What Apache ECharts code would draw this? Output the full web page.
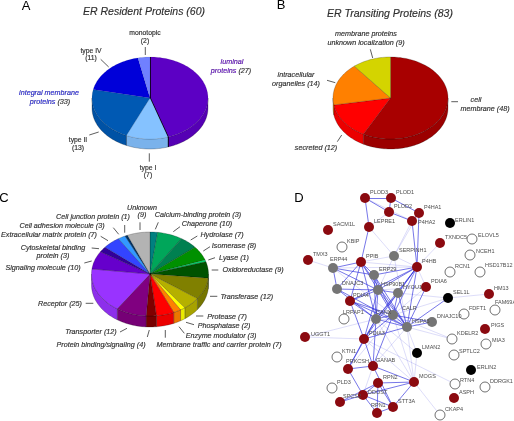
<!DOCTYPE html>
<html>
<head>
<meta charset="utf-8">
<title>ER proteins</title>
<script src="https://cdn.jsdelivr.net/npm/echarts@6/dist/echarts.min.js"></script>
<style>
	html, body { margin: 0; padding: 0; background: #fff; }
	#chart { width: 514px; height: 421px; }
</style>
</head>
<body>
<div id="chart"></div>
<script>
	// panel A
	var residentNames = ['luminal proteins', 'type I', 'type II', 'type IV', 'monotopic'];
	var residentValues = [27, 7, 13, 11, 2];
	// panel B
	var transitingNames = ['cell membrane', 'secreted', 'intracellular organelles', 'membrane proteins unknown localization'];
	var transitingValues = [48, 12, 14, 9];
	// panel C
	var functionNames = ['Calcium-binding protein', 'Chaperone', 'Hydrolase', 'Isomerase', 'Lyase', 'Oxidoreductase',
		'Transferase', 'Protease', 'Phosphatase', 'Enzyme modulator', 'Membrane traffic and carrier protein',
		'Protein binding/signaling', 'Transporter', 'Receptor', 'Signaling molecule', 'Cytoskeletal binding protein',
		'Extracellular matrix protein', 'Cell adhesion molecule', 'Cell junction protein', 'Unknown'];
	var functionValues = [3, 10, 7, 8, 1, 9, 12, 7, 2, 3, 7, 4, 12, 25, 10, 3, 7, 3, 1, 9];

	// panel D, node place, group: r = resident, g = chaperone, k = black, w = white
	var nodeNames = ['PLOD3', 'PLOD1', 'PLOD2', 'P4HA1', 'P4HA2', 'LEPRE1', 'SACM1L', 'ERLIN1', 'KBIP', 'TXNDC5', 'ELOVL5',
		'NCEH1', 'TMX3', 'ERP44', 'PPIB', 'SERPINH1', 'P4HB', 'RCN1', 'HSD17B12', 'ERP29', 'DNAJC3', 'HSP90B1', 'HYOU1',
		'PDIA6', 'SEL1L', 'HM13', 'PDIA4', 'FAM69A', 'FDFT1', 'LRPAP1', 'CANX', 'CALR', 'HSPA5', 'DNAJC10', 'PIGS', 'MIA3',
		'KDELR2', 'UGGT1', 'PDIA3', 'LMAN2', 'SPTLC2', 'KTN1', 'ERLIN2', 'PRKCSH', 'GANAB', 'RPN2', 'MOGS', 'RTN4', 'DDRGK1',
		'PLD3', 'ASPH', 'SPCS2', 'DDOST', 'STT3A', 'RPN1', 'CKAP4'];
	var nodeX = [365, 391, 389, 419, 412, 369, 328, 450, 342, 440, 472, 470, 308, 333, 361, 394, 417, 450, 480, 374, 337, 378, 398,
		426, 448, 489, 350, 495, 464, 344, 376, 393, 407, 432, 485, 486, 452, 305, 364, 417, 454, 337, 471, 348, 373, 378, 414, 455, 485,
		332, 454, 340, 363, 393, 377, 440];
	var nodeY = [198, 198, 212, 213, 221, 227, 230, 223, 247, 243, 239, 255, 260, 268, 262, 256, 267, 272, 272, 275, 289, 290, 293,
		287, 298, 294, 301, 310, 314, 319, 319, 315, 327, 322, 329, 344, 339, 337, 339, 353, 355, 357, 370, 369, 366, 383, 382, 384, 387,
		388, 398, 402, 395, 407, 413, 415];
	var nodeGroups = ['r', 'r', 'r', 'r', 'r', 'r', 'r', 'k', 'w', 'r', 'w', 'w', 'r', 'g', 'r', 'g', 'r', 'w', 'w', 'g', 'g', 'g', 'g',
		'r', 'k', 'r', 'r', 'w', 'w', 'w', 'g', 'g', 'g', 'g', 'r', 'w', 'w', 'r', 'r', 'k', 'w', 'w', 'k', 'r', 'r', 'r', 'r', 'w', 'w',
		'w', 'r', 'r', 'r', 'r', 'r', 'w'];
	// strong interactions
	var strongLinks = ['PLOD3-PLOD1', 'PLOD3-PLOD2', 'PLOD1-PLOD2', 'PLOD1-P4HA1', 'PLOD2-P4HA2', 'P4HA1-P4HA2', 'P4HA1-P4HB', 'P4HA2-P4HB',
		'LEPRE1-PPIB', 'LEPRE1-PLOD3', 'PPIB-ERP44', 'PPIB-ERP29', 'PPIB-HSP90B1', 'PPIB-DNAJC3', 'PPIB-PDIA4', 'PPIB-HSPA5', 'PPIB-CANX',
		'ERP44-ERP29', 'ERP44-HSP90B1', 'ERP44-DNAJC3', 'P4HB-ERP29', 'P4HB-HSP90B1', 'P4HB-HYOU1', 'P4HB-CANX', 'P4HB-CALR', 'P4HB-HSPA5',
		'P4HB-PDIA3', 'P4HB-PDIA4', 'HSP90B1-CANX', 'HSP90B1-CALR', 'HSP90B1-HSPA5', 'HSP90B1-PDIA3', 'HSP90B1-PDIA4', 'HSP90B1-HYOU1',
		'HSP90B1-ERP29', 'ERP29-CANX', 'ERP29-CALR', 'ERP29-HSPA5', 'HYOU1-HSPA5', 'HYOU1-CALR', 'HYOU1-CANX', 'PDIA4-CANX', 'PDIA4-CALR',
		'PDIA4-HSPA5', 'PDIA4-PDIA3', 'DNAJC3-HSPA5', 'DNAJC3-CANX', 'DNAJC3-HSP90B1', 'CANX-CALR', 'CANX-HSPA5', 'CALR-HSPA5', 'CANX-PDIA3',
		'CALR-PDIA3', 'HSPA5-PDIA3', 'HSPA5-DNAJC10', 'CALR-DNAJC10', 'PDIA6-HSPA5', 'SEL1L-HSPA5', 'PDIA3-PRKCSH', 'PDIA3-GANAB', 'CANX-GANAB',
		'CALR-GANAB', 'CANX-PRKCSH', 'PRKCSH-GANAB', 'GANAB-MOGS', 'MOGS-RPN2', 'MOGS-DDOST', 'MOGS-STT3A', 'PRKCSH-DDOST', 'RPN2-DDOST',
		'RPN2-STT3A', 'RPN2-RPN1', 'DDOST-STT3A', 'DDOST-RPN1', 'DDOST-SPCS2', 'SPCS2-RPN2', 'STT3A-RPN1', 'GANAB-STT3A'];
	// weak interactions
	var weakLinks = ['P4HA2-SERPINH1', 'P4HA1-SERPINH1', 'LEPRE1-PLOD2', 'LEPRE1-SERPINH1', 'SERPINH1-PPIB', 'SERPINH1-P4HB', 'SERPINH1-HSP90B1',
		'SERPINH1-HSPA5', 'PLOD3-P4HA2', 'PPIB-P4HB', 'ERP44-P4HB', 'ERP44-CALR', 'TMX3-ERP44', 'P4HB-PDIA6', 'P4HB-TXNDC5', 'PDIA6-HSP90B1',
		'PDIA6-CALR', 'CANX-DNAJC10', 'SEL1L-HM13', 'SEL1L-HYOU1', 'SEL1L-CALR', 'HSPA5-KDELR2', 'CALR-KDELR2', 'PDIA3-UGGT1', 'CANX-UGGT1',
		'CALR-PRKCSH', 'HSPA5-GANAB', 'HSPA5-MOGS', 'CANX-MOGS', 'CALR-MOGS', 'PDIA3-MOGS', 'MOGS-CKAP4', 'MOGS-LMAN2', 'LMAN2-HSPA5', 'LMAN2-CANX',
		'PDIA3-RTN4', 'GANAB-DDOST'];

	var residentColors = ['#5c00c4', '#85c2ff', '#0059b3', '#0000d9', '#7080ff'];
	var transitingColors = ['#a80000', '#ff0000', '#ff8000', '#d4d400'];
	var functionColors = ['#008080', '#00a65a', '#008050', '#009000', '#00e070', '#005200', '#808000', '#b5b000', '#ffff00', '#ff8000', '#ff0000',
		'#800000', '#800080', '#9933ff', '#6600cc', '#330099', '#3344ff', '#3399ff', '#003366', '#b3b3b3'];
	var groupColors = { r: '#8b0a10', g: '#757575', k: '#000000', w: '#ffffff' };

	// label offset from node centre, the default is [5, -6]
	var labelOffsets = {
		'P4HA2': [6, 1], 'ERLIN1': [5, -3], 'ELOVL5': [6, -4], 'NCEH1': [6, -4], 'ERP44': [-3, -9], 'HSD17B12': [5, -7], 'FAM69A': [0, -8],
		'LRPAP1': [-1, -7], 'CANX': [0, -7], 'CALR': [9, -7], 'PIGS': [6, -4], 'MIA3': [6, -4], 'UGGT1': [6, -3], 'SPTLC2': [5, -4],
		'ERLIN2': [6, -3], 'PRKCSH': [-2, -8], 'GANAB': [3, -6], 'RTN4': [5, -4], 'DDOST': [5, -3], 'RPN1': [-6, -8], 'HSP90B1': [3, -6],
		'PDIA4': [3, -6], 'SPCS2': [3, -6]
	};

	var myChart = echarts.init(document.getElementById('chart'));

	function shade(hex, k) {
		var n = parseInt(hex.slice(1), 16);
		var r = Math.round((n >> 16 & 255) * k), g = Math.round((n >> 8 & 255) * k), b = Math.round((n & 255) * k);
		return 'rgb(' + r + ',' + g + ',' + b + ')';
	}

	// flat pies can't be tilted in echarts, so the tilted ones are a custom series
	function tiltedPie(name, names, values, colors, layout) {
		var total = values.reduce(function (a, b) { return a + b; }, 0);
		var starts = [];
		var sum = 0;
		values.forEach(function (v) { starts.push(sum / total * 360); sum += v; });

		function rim(c, deg, drop) {
			var t = deg * Math.PI / 180;
			return [c[0] + layout.rx * Math.sin(t), c[1] - layout.ry * Math.cos(t) + (drop || 0)];
		}
		function arc(c, a, b, drop) {
			var pts = [];
			var steps = Math.max(2, Math.ceil((b - a) / 2));
			for (var i = 0; i <= steps; i++) pts.push(rim(c, a + (b - a) * i / steps, drop));
			return pts;
		}
		return {
			type: 'custom',
			name: name,
			coordinateSystem: 'cartesian2d',
			silent: true,
			data: values.map(function (v, i) { return { name: names[i], value: [layout.cx, layout.cy, v] }; }),
			encode: { x: 0, y: 1 },
			renderItem: function (params, api) {
				var i = params.dataIndex;
				var c = api.coord([api.value(0), api.value(1)]);
				var a = starts[i];
				var b = a + api.value(2) / total * 360;
				var children = [];
				var from = Math.max(a, 90), to = Math.min(b, 270);
				if (to > from) {
					var wall = arc(c, from, to, 0).concat(arc(c, from, to, layout.depth).reverse());
					children.push({
						type: 'polygon',
						shape: { points: wall },
						style: { fill: shade(colors[i], 0.92), stroke: 'rgba(0,0,0,0.45)', lineWidth: 0.5 }
					});
				}
				children.push({
					type: 'polygon',
					shape: { points: [c].concat(arc(c, a, b, 0)) },
					style: { fill: colors[i], stroke: layout.edge, lineWidth: 0.5 }
				});
				if (layout.accent === i) {
					var p0 = rim(c, a), p1 = rim(c, b);
					var dark = { stroke: '#000', lineWidth: 1.5 };
					children.push({ type: 'line', shape: { x1: c[0], y1: c[1], x2: p0[0], y2: p0[1] }, style: dark });
					children.push({ type: 'line', shape: { x1: c[0], y1: c[1], x2: p1[0], y2: p1[1] }, style: dark });
					children.push({ type: 'line', shape: { x1: p1[0], y1: p1[1], x2: p1[0], y2: p1[1] + layout.depth }, style: dark });
				}
				return { type: 'group', children: children };
			}
		};
	}

	var nodeData = nodeNames.map(function (n, i) {
		var g = nodeGroups[i];
		return {
			name: n,
			value: [nodeX[i], nodeY[i]],
			itemStyle: { color: groupColors[g], borderColor: g == 'w' ? '#333' : groupColors[g], borderWidth: g == 'w' ? 0.7 : 0 },
			label: { offset: labelOffsets[n] || [5, -6] }
		};
	});
	function linkItems(list, color, width) {
		return list.map(function (l) {
			var p = l.split('-');
			return { source: nodeNames.indexOf(p[0]), target: nodeNames.indexOf(p[1]), lineStyle: { color: color, width: width, opacity: 1 } };
		});
	}

	// text annotations: text, x, y
	var titleFont = 'italic 10.5px "Liberation Sans"';
	var labelFont = 'italic 7.2px "Liberation Sans"';
	var smallFont = '6.8px "Liberation Sans"';
	var elements = [];
	function addText(text, x, y, font, align, rich) {
		elements.push({
			type: 'text', x: x, y: y, silent: true,
			style: { text: text, font: font, fill: '#2e2e2e', stroke: '#2e2e2e', lineWidth: 0.15, align: align || 'center', verticalAlign: 'middle', rich: rich }
		});
	}
	[['A', 26, 6], ['B', 281, 5], ['C', 4, 198], ['D', 299, 198]].forEach(function (t) {
		elements.push({ type: 'text', x: t[1], y: t[2], silent: true,
			style: { text: t[0], font: '13px "Liberation Sans"', fill: '#000', align: 'center', verticalAlign: 'middle' } });
	});
	addText('ER Resident Proteins (60)', 144, 12.5, titleFont);
	addText('ER Transiting Proteins (83)', 390, 14, titleFont);

	[['monotopic', 145, 33], ['(2)', 145, 41], ['type IV', 91, 51], ['(11)', 91, 58], ['type II', 78, 140], ['(13)', 78, 148],
		['type I', 148, 168], ['(7)', 148, 175]].forEach(function (t) { addText(t[0], t[1], t[2], smallFont); });

	var purple = { p: { fill: '#5c00c4', font: labelFont } };
	var blue = { b: { fill: '#2222dd', font: labelFont } };
	addText('{p|luminal}', 232, 62, labelFont, 'center', purple);
	addText('{p|proteins} (27)', 231, 71, labelFont, 'center', purple);
	addText('{b|integral membrane}', 49, 92.5, labelFont, 'center', blue);
	addText('{b|proteins} (33)', 50, 102, labelFont, 'center', blue);

	[['membrane proteins', 366, 33.5], ['unknown localization (9)', 366, 42.5], ['intracellular', 296, 74.5], ['organelles (14)', 296, 83.5],
		['cell', 476, 100], ['membrane (48)', 485, 109], ['secreted (12)', 316, 148],
		['Unknown', 142, 207.5], ['(9)', 142, 215], ['Cell junction protein (1)', 93, 216.5], ['Calcium-binding protein (3)', 198, 215],
		['Chaperone (10)', 207, 223.5], ['Cell adhesion molecule (3)', 62, 225.5], ['Extracellular matrix protein (7)', 49, 235],
		['Hydrolase (7)', 222, 235], ['Isomerase (8)', 234, 245.5], ['Cytoskeletal binding', 53, 247.5], ['protein (3)', 53, 255.5],
		['Lyase (1)', 234, 257.5], ['Signaling molecule (10)', 43, 267.5], ['Receptor (25)', 60, 303.5], ['Protease (7)', 227, 316.5],
		['Phosphatase (2)', 224, 325.5], ['Transporter (12)', 91, 332], ['Enzyme modulator (3)', 221, 335.5], ['Protein binding/signaling (4)', 101, 344.5]
	].forEach(function (t) { addText(t[0], t[1], t[2], labelFont); });
	addText('Oxidoreductase (9)', 222.5, 270, labelFont, 'left');
	addText('Transferase (12)', 220.5, 296.5, labelFont, 'left');
	addText('Membrane traffic and carrier protein (7)', 156.5, 345, labelFont, 'left');

	// leader lines
	[[145.3, 47, 145.3, 55], [100.7, 59.3, 108.7, 67], [89.3, 135, 98.7, 132], [149.3, 153.3, 149.3, 161.7],
		[370.3, 49.3, 372.7, 58], [327, 80.3, 335.3, 82.7], [451.3, 101.7, 458, 101.7], [337.3, 141.7, 341.7, 135],
		[140, 222.3, 140, 230], [124.7, 225, 124.7, 232.7], [158.3, 222.3, 155.3, 229.3], [180, 226.7, 173.3, 231.7],
		[113.3, 227.7, 118.7, 234.3], [100.7, 236.3, 108, 240.7], [197.3, 236, 190.7, 240], [210, 246.7, 203.3, 251],
		[91.7, 248, 99, 248.7], [215, 257.7, 208.3, 260], [211.7, 270, 218.3, 270], [84.3, 263, 91.7, 261],
		[210, 296.3, 217.3, 296.3], [85.7, 303.3, 93.3, 303.3], [196, 316, 203.3, 316], [186, 322.3, 194, 324.7],
		[120, 332, 127, 328.3], [179, 326.7, 184.3, 333.3], [149.3, 330, 147.3, 337], [165.3, 330, 165.3, 337.7]
	].forEach(function (l) {
		elements.push({ type: 'line', silent: true, shape: { x1: l[0], y1: l[1], x2: l[2], y2: l[3] }, style: { stroke: '#333', lineWidth: 0.8 } });
	});

	var option = {
		animation: false,
		backgroundColor: '#fff',
		grid: { left: 0, right: 0, top: 0, bottom: 0 },
		xAxis: { type: 'value', min: 0, max: 514, show: false },
		yAxis: { type: 'value', min: 0, max: 421, inverse: true, show: false },
		graphic: { elements: elements },
		series: [
			tiltedPie('ER Resident Proteins', residentNames, residentValues, residentColors,
				{ cx: 150, cy: 98, rx: 58, ry: 41, depth: 10, edge: 'rgba(0,0,0,0.15)', accent: 0 }),
			tiltedPie('ER Transiting Proteins', transitingNames, transitingValues, transitingColors,
				{ cx: 390.5, cy: 98, rx: 57.5, ry: 41, depth: 10, edge: 'rgba(0,0,0,0.4)' }),
			tiltedPie('Protein function', functionNames, functionValues, functionColors,
				{ cx: 150, cy: 274, rx: 58.5, ry: 42, depth: 11, edge: 'rgba(0,0,0,0.4)' }),
			{
				type: 'graph',
				coordinateSystem: 'cartesian2d',
				layout: 'none',
				silent: true,
				symbol: 'circle',
				symbolSize: 10,
				data: nodeData,
				links: linkItems(weakLinks, 'rgba(110,110,230,0.4)', 0.6).concat(linkItems(strongLinks, 'rgba(50,50,220,0.75)', 0.9)),
				label: {
					show: true,
					position: 'inside',
					align: 'left',
					color: '#4d4d4d',
					fontSize: 5.5,
					fontFamily: 'Liberation Sans',
					formatter: '{b}'
				},
				z: 5
			}
		]
	};
	myChart.setOption(option);
</script>
</body>
</html>
